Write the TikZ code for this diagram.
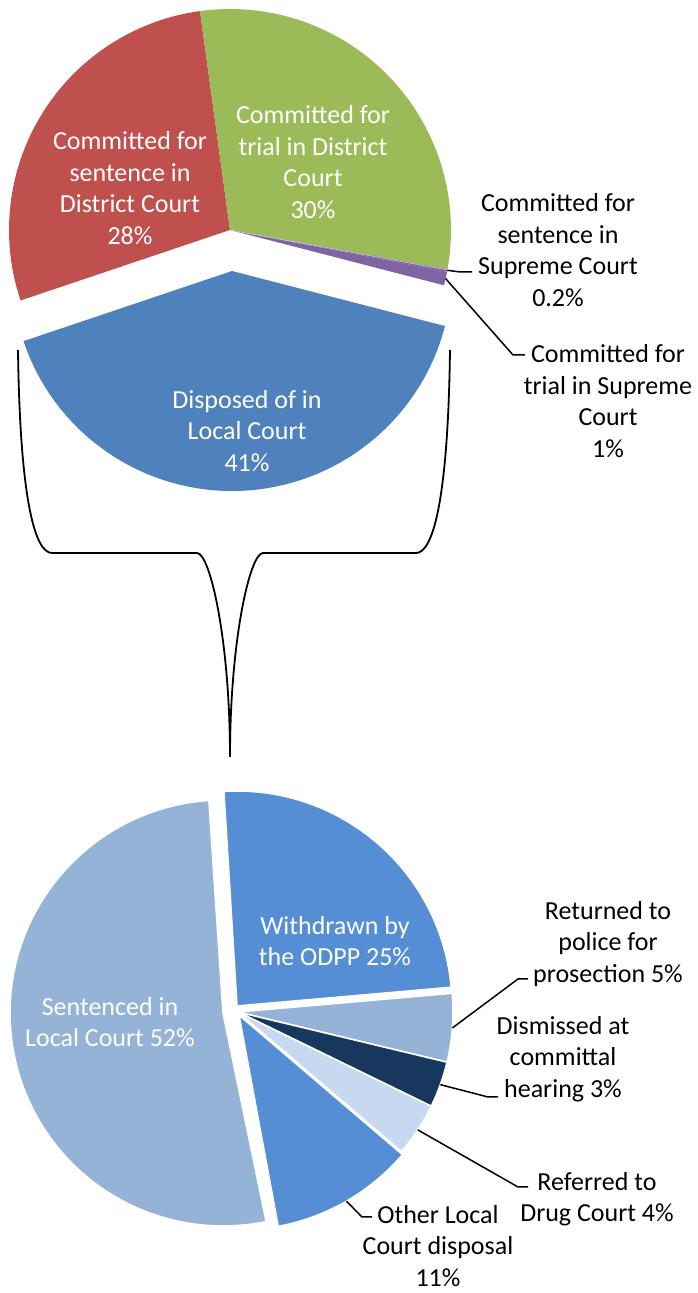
\documentclass[tikz,border=0pt]{standalone}
\usepackage{fontspec}
\setmainfont{Carlito}
\usetikzlibrary{calc}
\definecolor{cRed}{HTML}{C0504D}
\definecolor{cGreen}{HTML}{9BBB59}
\definecolor{cPurple}{HTML}{8064A2}
\definecolor{cBlue}{HTML}{4F81BD}
\definecolor{bMid}{HTML}{558ED5}
\definecolor{bLight}{HTML}{95B3D7}
\definecolor{bDark}{HTML}{17375E}
\definecolor{bPale}{HTML}{C6D9F1}
% pie wedge: centre, start angle, end angle, radius, style
\newcommand\pieslice[5]{%
  \path[#5] (#1) -- ++(#2:#4pt) arc[start angle=#2, end angle=#3, radius=#4pt] -- cycle;}
\begin{document}
\begin{tikzpicture}[x=1pt,y=1pt,
  lbl/.style={font=\fontsize{26}{31.5}\selectfont, align=center, inner sep=0pt},
  inlbl/.style={lbl, text=white},
  leader/.style={draw=black, line width=1.5pt, line join=round},
  brace/.style={draw=black, line width=1.8pt},
  bslice/.style={draw=white, line width=1.6pt, line join=miter}]
\useasboundingbox (0,0) rectangle (698,1293);

% ---------- upper pie: all charges ----------
\coordinate (C1)  at (230,1063);
\coordinate (C1b) at (232,1022);
\pieslice{C1}{97.8}{198.6}{221}{fill=cRed}
\pieslice{C1}{-10.2}{97.8}{221}{fill=cGreen}
\pieslice{C1}{-10.9}{-10.2}{221}{fill=cPurple}
\pieslice{C1}{-14.5}{-10.9}{221}{fill=cPurple}
\draw[white!65!cPurple, line width=0.6pt] (C1) -- ++(-10.4:221pt);
\pieslice{C1b}{198.6}{345.5}{220}{fill=cBlue}

\node[inlbl] (tRed)   at (130,1105) {Committed for\\sentence in\\District Court\\28\%};
\node[inlbl] (tGreen) at (313,1131) {Committed for\\trial in District\\Court\\30\%};
\node[inlbl] (tBlue)  at (247,862)  {Disposed of in\\Local Court\\41\%};
\node[lbl]   (tSupS)  at (558,1043) {Committed for\\sentence in\\Supreme Court\\0.2\%};
\node[lbl]   (tSupT)  at (608,892)  {Committed for\\trial in Supreme\\Court\\1\%};

\coordinate (a02) at ($(C1)+(-10.5:221pt)$);
\coordinate (b02) at (460,1021);
\coordinate (c02) at (472,1021);
\draw[leader] (a02) -- (b02) -- (c02);
\coordinate (a1) at ($(C1)+(-12.7:221pt)$);
\coordinate (b1) at (513,938);
\coordinate (c1) at (525,938);
\draw[leader] (a1) -- (b1) -- (c1);

% ---------- bracket joining the two pies ----------
\coordinate (brL) at (18,943);
\coordinate (brR) at (450,943);
\coordinate (brTip) at (230,536);
\draw[brace]
  (brL) .. controls (20,793) and (35,740) .. (52,740) -- (197,740)
        .. controls (210,740) and (230,653) .. (brTip);
\draw[brace]
  (brR) .. controls (448,793) and (433,740) .. (416,740) -- (263,740)
        .. controls (250,740) and (230,653) .. (brTip);

% ---------- lower pie: Local Court disposals ----------
\coordinate (C2) at (238,281);
\coordinate (Cw) at (237,287);
\coordinate (Co) at (239,278);
\coordinate (Cs) at (223,280);
\pieslice{Cw}{5}{93.5}{215}{bslice, fill=bMid}
\pieslice{C2}{-13.5}{5}{215}{bslice, fill=bLight}
\pieslice{C2}{-26}{-13.5}{215}{bslice, fill=bDark}
\pieslice{C2}{-40.5}{-26}{215}{bslice, fill=bPale}
\pieslice{Co}{-79.5}{-40.5}{215}{bslice, fill=bMid}
\pieslice{Cs}{93.8}{281.7}{213}{bslice, fill=bLight}

\node[inlbl] (tWith) at (335,352) {Withdrawn by\\the ODPP 25\%};
\node[inlbl] (tSent) at (110,271) {Sentenced in\\Local Court 52\%};
\node[lbl] (tRet)  at (608,349) {Returned to\\police for\\prosection 5\%};
\node[lbl] (tDis)  at (563,234) {Dismissed at\\committal\\hearing 3\%};
\node[lbl] (tRef)  at (597,94)  {Referred to\\Drug Court 4\%};
\node[lbl] (tOth)  at (438,47)  {Other Local\\Court disposal\\11\%};

\coordinate (aRet) at ($(C2)+(-4.25:215pt)$);
\coordinate (bRet) at (518,314);
\coordinate (cRet) at (528,314);
\draw[leader] (aRet) -- (bRet) -- (cRet);
\coordinate (aDis) at ($(C2)+(-19.75:215pt)$);
\coordinate (bDis) at (488,196);
\coordinate (cDis) at (498,196);
\draw[leader] (aDis) -- (bDis) -- (cDis);
\coordinate (aRef) at ($(C2)+(-33.25:215pt)$);
\coordinate (bRef) at (518,106);
\coordinate (cRef) at (528,106);
\draw[leader] (aRef) -- (bRef) -- (cRef);
\coordinate (aOth) at ($(Co)+(-60:215pt)$);
\coordinate (bOth) at (362,76);
\coordinate (cOth) at (372,76);
\draw[leader] (aOth) -- (bOth) -- (cOth);
\end{tikzpicture}
\end{document}
